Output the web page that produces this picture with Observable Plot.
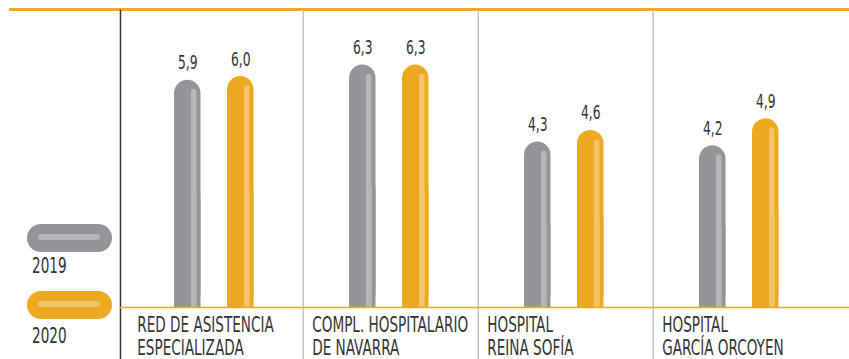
<!DOCTYPE html>
<html>
<head>
<meta charset="utf-8">
<script src="https://cdn.jsdelivr.net/npm/d3@7"></script>
<script src="https://cdn.jsdelivr.net/npm/@observablehq/plot@0.6"></script>
<style>
  html, body { margin: 0; padding: 0; background: #fff; }
  #wrap { position: relative; width: 849px; height: 359px; overflow: hidden;
          font-family: "DejaVu Sans Condensed", "DejaVu Sans", sans-serif; color: #333; }
  #wrap svg { position: absolute; left: 0; top: 0; }
  .pill { position: absolute; width: 85px; height: 28px; border-radius: 14px; }
  .pill .hl { position: absolute; left: 11px; top: 10px; width: 62px; height: 6px; border-radius: 3px; }
  .lab { position: absolute; font-size: 21px; line-height: 1; transform: scaleX(0.72); transform-origin: 0 0; }
</style>
</head>
<body>
<div id="wrap"></div>
<script>
// ---- data ----
const hospitals = [
  "RED DE ASISTENCIA\nESPECIALIZADA",
  "COMPL. HOSPITALARIO\nDE NAVARRA",
  "HOSPITAL\nREINA SOFÍA",
  "HOSPITAL\nGARCÍA ORCOYEN"
];
const years = ["2019", "2020"];
const values2019 = [5.9, 6.3, 4.3, 4.2];
const values2020 = [6.0, 6.3, 4.6, 4.9];

// ---- styling ----
const GRAY = "#949599", GRAY_HL = "#b5b6b8";
const ORANGE = "#eda922", ORANGE_HL = "#f3c46a";
const FONT = '"DejaVu Sans Condensed", "DejaVu Sans", sans-serif';
const SQUEEZE = 0.72;
const bandStart = 127, bandEnd = 829;
const bw = (bandEnd - bandStart) / hospitals.length;

const rows19 = hospitals.map((h, i) => ({h, v: values2019[i]}));
const rows20 = hospitals.map((h, i) => ({h, v: values2020[i]}));
const fmt = v => v.toFixed(1).replace(".", ",");

// bar geometry inside each band (pixels)
const barW = 27;
const g19 = 46, g20 = 99;           // bar left offsets in band
const hlOff = 17, hlW = 6;          // highlight stripe offset/width in bar

function barMarks(rows, left, color, hl) {
  const insL = left, insR = bw - left - barW;
  const hL = left + hlOff, hR = bw - hL - hlW;
  return [
    Plot.barY(rows, {x: "h", y: "v", fill: color, insetLeft: insL, insetRight: insR, rx: barW / 2}),
    Plot.barY(rows, {x: "h", y: d => d.v / 2, fill: color, insetLeft: insL, insetRight: insR}),
    Plot.barY(rows, {x: "h", y: "v", fill: hl, insetLeft: hL, insetRight: hR, insetTop: 9, rx: hlW / 2}),
    Plot.barY(rows, {x: "h", y: d => d.v / 2, fill: hl, insetLeft: hL, insetRight: hR}),
    Plot.text(rows, {x: "h", y: "v", text: d => fmt(d.v), dx: left + barW / 2 - bw / 2, dy: -17,
                     fontSize: 19, fill: "#333", fontFamily: FONT})
  ];
}

const yMax = 7.74;
const chart = Plot.plot({
  width: 849,
  height: 359,
  marginLeft: 120,
  marginRight: 0,
  marginTop: 10,
  marginBottom: 0,
  style: {fontFamily: FONT, background: "transparent"},
  x: {domain: hospitals, range: [bandStart, bandEnd], padding: 0, axis: null},
  y: {domain: [0, yMax], range: [307, 9], axis: null},
  marks: [
    Plot.ruleY([yMax], {stroke: ORANGE, strokeWidth: 3, insetLeft: -111}),
    Plot.frame({anchor: "left", stroke: "#333", strokeWidth: 1.5}),
    Plot.ruleX(hospitals.slice(1), {x: d => d, dx: -bw / 2, stroke: "#c3c3c3", strokeWidth: 1.5}),
    ...barMarks(rows19, g19, GRAY, GRAY_HL),
    ...barMarks(rows20, g20, ORANGE, ORANGE_HL),
    Plot.ruleY([0], {stroke: ORANGE, strokeWidth: 1.5}),
    Plot.text(hospitals, {x: d => d, y: d => 0, text: d => d, textAnchor: "start", lineAnchor: "top",
                          dx: -bw / 2 + 9, dy: 8, lineHeight: 1.1, fontSize: 21, fill: "#333", fontFamily: FONT})
  ]
});

// condense all text horizontally around each text's anchor
chart.querySelectorAll("text").forEach(t => {
  const tr = t.getAttribute("transform") || "";
  t.setAttribute("transform", tr + ` scale(${SQUEEZE},1)`);
});

const wrap = document.getElementById("wrap");
wrap.appendChild(chart);

// ---- legend ----
const legend = [
  {year: years[0], color: GRAY, hl: GRAY_HL, top: 224, labTop: 256},
  {year: years[1], color: ORANGE, hl: ORANGE_HL, top: 291, labTop: 326}
];
legend.forEach(l => {
  const p = document.createElement("div");
  p.className = "pill";
  p.style.left = "27px"; p.style.top = l.top + "px"; p.style.background = l.color;
  const h = document.createElement("div");
  h.className = "hl"; h.style.background = l.hl;
  p.appendChild(h);
  wrap.appendChild(p);
  const t = document.createElement("div");
  t.className = "lab"; t.textContent = l.year;
  t.style.left = "32px"; t.style.top = l.labTop + "px";
  wrap.appendChild(t);
});
</script>
</body>
</html>
